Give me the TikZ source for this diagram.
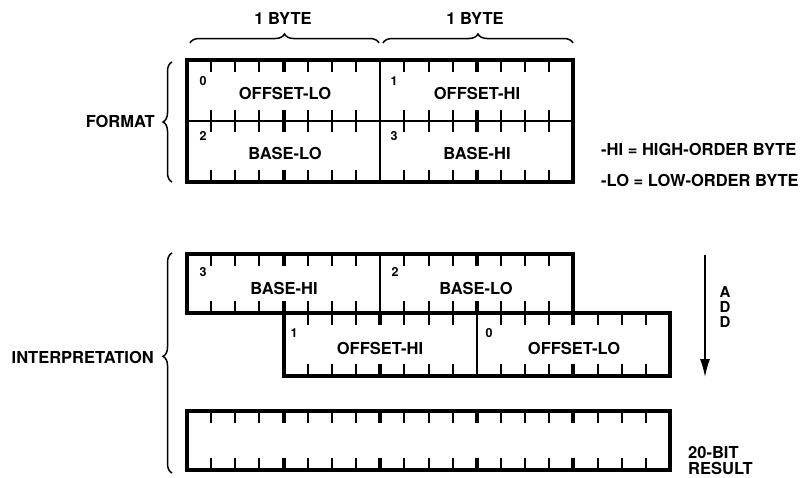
\documentclass[tikz,border=0pt]{standalone}
\usepackage{fontspec}
\setmainfont{TeX Gyre Heros}
\usetikzlibrary{arrows.meta,decorations.pathreplacing}

% ticks along one edge: #1 y, #2 signed length, #3..#4 bit range
\newcommand\bitticks[4]{%
  \foreach \k in {#3,...,#4}{
    \pgfmathtruncatemacro\nib{mod(\k,4)}
    \ifnum\nib=0
      \draw[nibtick] ({187+\k*24.15},#1) -- ++(0,#2);
    \else
      \draw[tick] ({187+\k*24.15},#1) -- ++(0,#2);
    \fi}}

\begin{document}
\begin{tikzpicture}[x=1pt, y=-1pt,
  font=\fontsize{16.5}{18}\selectfont\bfseries,
  frame/.style={line width=4pt, line join=miter},
  split/.style={line width=1.8pt},
  tick/.style={line width=2pt},
  nibtick/.style={line width=4pt},
  lbl/.style={inner sep=0pt},
  idx/.style={inner sep=0pt, font=\fontsize{12.5}{13}\selectfont\bfseries},
  brc/.style={decorate, decoration={brace, amplitude=9pt}, line width=1.5pt},
  addarrow/.style={-{Latex[length=18pt, width=10pt]}, line width=1.5pt}
]
\useasboundingbox (0,0) rectangle (805,477);
% ---------- format ----------
\draw[brc] (190,43) -- (379,43);
\draw[brc] (383,43) -- (573,43);
\node[lbl] (byteA) at (283,18) {1 BYTE};
\node[lbl] (byteB) at (475,18) {1 BYTE};
\bitticks{60}{12}{1}{7}   \bitticks{60}{12}{9}{15}
\bitticks{121}{-11}{1}{7} \bitticks{121}{-11}{9}{15}
\bitticks{121}{11}{1}{7}  \bitticks{121}{11}{9}{15}
\bitticks{182}{-12}{1}{7} \bitticks{182}{-12}{9}{15}
\draw[split] (187,121) -- (573.4,121);
\draw[split] (380.2,60) -- (380.2,182);
\draw[frame] (187,60) rectangle (573.4,182);
\node[idx] (n0) at (203,81) {0};
\node[lbl] (offLo) at (285,93) {OFFSET-LO};
\node[idx] (n1) at (394,81) {1};
\node[lbl] (offHi) at (477,93) {OFFSET-HI};
\node[idx] (n2) at (203,136) {2};
\node[lbl] (baseLo) at (285,153) {BASE-LO};
\node[idx] (n3) at (394,136) {3};
\node[lbl] (baseHi) at (477,153) {BASE-HI};
\draw[brc] (172,182) -- (172,62);
\node[lbl, anchor=east] (format) at (155,121) {FORMAT};
\node[lbl, anchor=west] (keyHi) at (601,149) {-HI = HIGH-ORDER BYTE};
\node[lbl, anchor=west] (keyLo) at (601,180) {-LO = LOW-ORDER BYTE};
% ---------- interpretation ----------
\bitticks{254}{12}{1}{7}   \bitticks{254}{12}{9}{15}
\bitticks{313}{-12}{1}{7}  \bitticks{313}{-12}{9}{15}
\bitticks{313}{12}{5}{11}  \bitticks{313}{12}{13}{19}
\bitticks{376}{-12}{5}{11} \bitticks{376}{-12}{13}{19}
\draw[split] (380.2,254) -- (380.2,313);
\draw[split] (476.8,313) -- (476.8,376);
\draw[frame] (187,254) rectangle (573.4,313);
\draw[frame] (283.6,313) rectangle (670,376);
\node[idx] (m3) at (203,272) {3};
\node[lbl] (iBaseHi) at (284,288) {BASE-HI};
\node[idx] (m2) at (395,272) {2};
\node[lbl] (iBaseLo) at (476,288) {BASE-LO};
\node[idx] (m1) at (294,333) {1};
\node[lbl] (iOffHi) at (380,348) {OFFSET-HI};
\node[idx] (m0) at (489,333) {0};
\node[lbl] (iOffLo) at (574,348) {OFFSET-LO};
\bitticks{411}{12}{1}{19}
\bitticks{470}{-12}{1}{19}
\draw[frame] (187,411) rectangle (670,470);
\node[lbl, anchor=south west, align=left, font=\fontsize{16.5}{16.5}\selectfont\bfseries] (result) at (688,475) {20-BIT\\RESULT};
\coordinate (addTop) at (705,255);
\coordinate (addEnd) at (705,377);
\draw[addarrow] (addTop) -- (addEnd);
\node[lbl, align=center, font=\fontsize{15}{15}\selectfont\bfseries] (add) at (725,307) {A\\D\\D};
\draw[brc, decoration={aspect=0.53}] (172,473) -- (172,253);
\node[lbl, anchor=east] (interp) at (154,357) {INTERPRETATION};
\end{tikzpicture}
\end{document}
